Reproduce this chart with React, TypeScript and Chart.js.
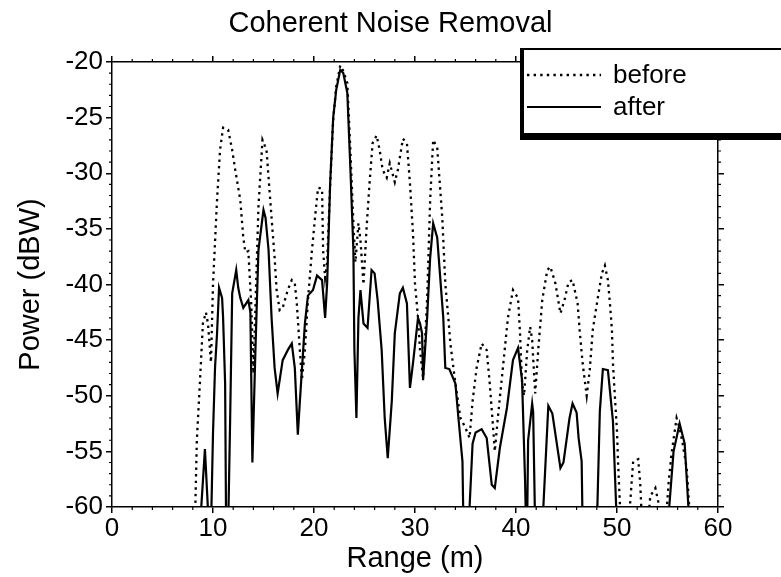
import React, { useEffect, useRef } from "react";
import { Chart, registerables } from "chart.js";

Chart.register(...registerables);

const FONT = "'Liberation Sans', Arial, Helvetica, sans-serif";

const TITLE = "Coherent Noise Removal";
const X_TITLE = "Range (m)";
const Y_TITLE = "Power (dBW)";
const SERIES_LABELS = ["before", "after"];

const X_MIN = 0;
const X_MAX = 60;
const X_STEP = 10;
const X_MINOR = 2;
const Y_MIN = -60;
const Y_MAX = -20;
const Y_STEP = 5;
const Y_MINOR = 1;

// "before" (dotted)
const beforeRange = [
  8.2, 8.4, 8.7, 9.0, 9.3, 9.5, 9.8, 10.0, 10.4, 10.7, 11.0, 11.5, 11.9, 12.2, 12.7, 13.0, 13.2, 13.5, 13.8, 14.0,
  14.2, 14.5, 14.9, 15.3, 15.5, 15.8, 16.1, 16.3, 16.6, 16.9, 17.4, 17.8, 18.1, 18.3, 18.6, 18.8, 19.1, 19.4, 19.8,
  20.1, 20.4, 20.8, 20.9, 21.1, 21.3, 21.6, 21.9, 22.2, 22.6, 22.9, 23.3, 23.6, 23.9, 24.1, 24.4, 24.6, 24.9, 25.2,
  25.5, 25.8, 26.2, 26.5, 26.8, 27.2, 27.5, 28.0, 28.3, 28.8, 29.2, 29.5, 29.8, 30.0, 30.3, 30.5, 30.8, 31.2, 31.5,
  31.8, 32.2, 32.7, 33.0, 33.3, 33.5, 34.0, 34.5, 35.0, 35.4, 35.7, 36.1, 36.6, 37.1, 37.4, 37.7, 37.9, 38.2, 38.7,
  39.2, 39.7, 40.2, 40.4, 40.6, 40.8, 41.1, 41.4, 41.6, 41.9, 42.2, 42.6, 43.1, 43.4, 43.9, 44.4, 44.8, 45.2, 45.6,
  46.1, 46.3, 46.6, 47.0, 47.3, 47.6, 48.1, 48.5, 48.8, 49.1, 49.3, 49.5, 49.6, 49.8, 50.0, 50.1, 50.4, 51.0, 51.3,
  51.6, 52.1, 52.3, 52.5, 53.0, 53.3, 53.8, 54.1, 54.3, 54.8, 55.1, 55.4, 55.9, 56.2, 56.5, 56.9, 57.3,
];
const beforePower = [
  -62, -54, -48.9, -43.5, -42.5, -43.5, -47, -40, -32.4, -27.9, -25.9, -26.1, -27.9, -29.7, -32.4, -35.8, -37.1, -37, -42, -48,
  -42, -33, -27, -27.9, -30.4, -34, -37.6, -40.5, -42.3, -42.1, -40.5, -39.6, -39.9, -41.7, -45.9, -48.6, -45.9, -41.4, -36.9,
  -34, -31.3, -31.4, -36.9, -39.4, -38, -31, -25.2, -22.2, -20.3, -20.8, -21.9, -27.9, -34.5, -38, -34.5, -36, -40, -35,
  -30.9, -27.3, -26.6, -27.9, -29.7, -30.4, -29.1, -30.8, -29.7, -26.9, -27.3, -30.9, -35.4, -39.9, -43, -45.9, -48.4, -41.4, -32.4,
  -27, -27.7, -34, -39.9, -43, -45.3, -48.9, -52, -52.9, -53.8, -50.5, -47.5, -45.3, -45.9, -48.9, -52.5, -55, -52, -47.5,
  -43, -40.5, -41.2, -44.4, -48.9, -50, -46, -43.8, -45, -49.8, -45.9, -41.4, -38.7, -38.4, -39.9, -42.6, -41.4, -39.8, -39.6,
  -41.7, -44.1, -47.1, -50, -47.7, -44.1, -41.2, -39, -38.3, -39.6, -41.7, -44.1, -47.1, -50.2, -53.2, -55.9, -62, -62, -59.7,
  -55.9, -55.7, -57.9, -62, -62, -59, -58.3, -59.6, -62, -62, -57.9, -55.2, -52, -52.9, -54.3, -56.5, -62,
];

// "after" (solid)
const afterRange = [
  8.7, 9.2, 9.6, 9.8, 10.0, 10.2, 10.4, 10.6, 10.9, 11.0, 11.2, 11.3, 11.5, 11.7, 11.9, 12.3, 12.5, 12.7, 13.0, 13.5,
  13.7, 13.9, 14.2, 14.5, 14.9, 15.0, 15.2, 15.5, 15.8, 16.1, 16.4, 16.9, 17.4, 17.8, 18.1, 18.4, 18.6, 19.1, 19.4,
  19.9, 20.3, 20.8, 21.1, 21.3, 21.6, 21.9, 22.2, 22.6, 22.9, 23.3, 23.6, 23.9, 24.0, 24.2, 24.4, 24.6, 24.9, 25.3,
  25.7, 26.0, 26.3, 26.7, 27.0, 27.3, 27.7, 28.0, 28.5, 28.8, 29.2, 29.5, 29.8, 30.3, 30.5, 30.7, 30.8, 31.2, 31.5,
  31.8, 32.2, 32.5, 32.8, 33.0, 33.4, 34.0, 34.3, 34.7, 34.8, 35.3, 35.7, 36.0, 36.6, 37.1, 37.6, 37.9, 38.4, 39.1,
  39.7, 40.2, 40.6, 40.9, 41.0, 41.1, 41.2, 41.6, 41.7, 41.9, 42.6, 43.2, 43.6, 44.4, 44.7, 45.3, 45.6, 46.0, 46.2,
  46.5, 46.6, 48.0, 48.3, 48.6, 49.1, 49.6, 50.0, 55.0, 55.6, 56.2, 56.7, 57.2,
];
const afterPower = [
  -62, -54.8, -62, -62, -53.4, -47.5, -44.4, -40.3, -41.2, -43, -48.9, -62, -62, -52, -40.8, -38.7, -40.3, -41.2, -42.1, -41.4,
  -42.5, -56, -45.9, -36.9, -34, -33.3, -34, -36.9, -43, -47.5, -49.8, -46.8, -45.9, -45.3, -47.5, -53.5, -50.5, -43.5, -41,
  -40.5, -39.2, -39.6, -43, -39.9, -30.9, -25, -22.5, -20.7, -21, -22.8, -29.5, -36.9, -45.9, -52, -43, -40.5, -43.5, -43.9,
  -38.7, -39, -41.4, -45.9, -52, -55.6, -50.5, -44.4, -40.8, -40.3, -41.7, -49.3, -47.1, -43, -43.5, -44.4, -48.6, -43, -37.6,
  -34.5, -35.8, -39.4, -43, -47.5, -47.6, -48.9, -52, -55.9, -62, -62, -54.3, -53.3, -53, -53.8, -58, -58.3, -54.7, -51.1,
  -46.8, -45.7, -48.6, -57.7, -62, -62, -54, -50.7, -51.5, -62, -62, -50.9, -51.6, -56.5, -56, -52, -50.7, -51.5, -53.8,
  -55.9, -62, -62, -51.4, -47.6, -47.7, -52.3, -62, -62, -55, -52.5, -54.3, -62,
];

const toPoints = (xs: number[], ys: number[]) => xs.map((x, i) => ({ x, y: ys[i] }));

const minorTicks = {
  id: "minorTicks",
  afterDraw(chart: any) {
    const { ctx, chartArea } = chart;
    const xs = chart.scales.x;
    const ys = chart.scales.y;
    ctx.save();
    ctx.strokeStyle = "#000";
    ctx.lineWidth = 1.2;
    ctx.beginPath();
    for (let v = X_MIN; v <= X_MAX; v += X_MINOR) {
      if (v % X_STEP === 0) continue;
      const px = xs.getPixelForValue(v);
      ctx.moveTo(px, chartArea.bottom);
      ctx.lineTo(px, chartArea.bottom + 3);
      ctx.moveTo(px, chartArea.top);
      ctx.lineTo(px, chartArea.top - 3);
    }
    for (let v = Y_MIN; v <= Y_MAX; v += Y_MINOR) {
      if (v % Y_STEP === 0) continue;
      const py = ys.getPixelForValue(v);
      ctx.moveTo(chartArea.left, py);
      ctx.lineTo(chartArea.left - 3, py);
      ctx.moveTo(chartArea.right, py);
      ctx.lineTo(chartArea.right + 3, py);
    }
    ctx.stroke();
    ctx.restore();
  },
};

const boxLegend = {
  id: "boxLegend",
  afterDraw(chart: any) {
    const { ctx } = chart;
    const left = 520;
    const top = 48;
    const bottom = 140;
    const right = chart.width + 10;
    ctx.save();
    ctx.fillStyle = "#000";
    ctx.fillRect(left, top, right - left, bottom - top);
    ctx.fillStyle = "#fff";
    ctx.fillRect(left + 4, top + 2, right - left, bottom - top - 9);
    const rows = [75, 107];
    chart.data.datasets.forEach((ds: any, i: number) => {
      const y = rows[i];
      ctx.strokeStyle = "#000";
      ctx.lineWidth = ds.borderWidth;
      ctx.setLineDash(ds.borderDash || []);
      ctx.beginPath();
      ctx.moveTo(527, y);
      ctx.lineTo(601, y);
      ctx.stroke();
      ctx.setLineDash([]);
      ctx.fillStyle = "#000";
      ctx.font = `26px ${FONT}`;
      ctx.textBaseline = "alphabetic";
      ctx.textAlign = "left";
      ctx.fillText(ds.label, 613, y + 8);
    });
    ctx.restore();
  },
};

export default function App() {
  const ref = useRef<HTMLCanvasElement | null>(null);

  useEffect(() => {
    if (!ref.current) return;
    const axisGrid = {
      drawOnChartArea: false,
      drawTicks: true,
      tickLength: 6,
      color: "#000",
      lineWidth: 1.5,
    };
    const axisBorder = { display: true, color: "#000", width: 1.5 };
    const tickFont = { family: FONT, size: 26 };
    const titleFont = { family: FONT, size: 29 };

    const chart = new Chart(ref.current, {
      type: "scatter",
      data: {
        datasets: [
          {
            label: SERIES_LABELS[0],
            data: toPoints(beforeRange, beforePower),
            showLine: true,
            borderColor: "#000",
            borderWidth: 2.3,
            borderDash: [2.4, 4.2],
            pointRadius: 0,
            tension: 0,
            clip: 0,
          },
          {
            label: SERIES_LABELS[1],
            data: toPoints(afterRange, afterPower),
            showLine: true,
            borderColor: "#000",
            borderWidth: 2.2,
            pointRadius: 0,
            tension: 0,
            clip: 0,
          },
        ],
      } as any,
      options: {
        animation: false,
        responsive: false,
        layout: { padding: 0 },
        plugins: {
          legend: { display: false },
          tooltip: { enabled: false },
          title: {
            display: true,
            text: TITLE,
            color: "#000",
            font: { family: FONT, size: 29, weight: "normal" },
            padding: { top: 7, bottom: 0 },
          },
        },
        scales: {
          x: {
            type: "linear",
            position: "bottom",
            min: X_MIN,
            max: X_MAX,
            ticks: { stepSize: X_STEP, color: "#000", font: tickFont, padding: 0, maxRotation: 0, autoSkip: false },
            grid: axisGrid,
            border: axisBorder,
            title: { display: true, text: X_TITLE, color: "#000", font: titleFont, padding: { top: 0, bottom: 1 } },
            afterFit: (s: any) => {
              s.height = 70;
            },
          },
          x2: {
            type: "linear",
            position: "top",
            min: X_MIN,
            max: X_MAX,
            ticks: { stepSize: X_STEP, display: false },
            grid: axisGrid,
            border: axisBorder,
            afterFit: (s: any) => {
              s.height = 20.2;
            },
          },
          y: {
            type: "linear",
            position: "left",
            min: Y_MIN,
            max: Y_MAX,
            ticks: { stepSize: Y_STEP, color: "#000", font: tickFont, padding: 3 },
            grid: axisGrid,
            border: axisBorder,
            title: { display: true, text: Y_TITLE, color: "#000", font: titleFont, padding: { top: 14, bottom: 0 } },
            afterFit: (s: any) => {
              s.width = 112;
            },
          },
          y2: {
            type: "linear",
            position: "right",
            min: Y_MIN,
            max: Y_MAX,
            ticks: { stepSize: Y_STEP, display: false },
            grid: axisGrid,
            border: axisBorder,
            afterFit: (s: any) => {
              s.width = 63;
            },
          },
        },
      } as any,
      plugins: [minorTicks, boxLegend],
    });
    return () => chart.destroy();
  }, []);

  return (
    <div style={{ position: "absolute", left: 0, top: 0, width: 781, height: 577, background: "#fff" }}>
      <canvas ref={ref} width={781} height={577} style={{ display: "block" }} />
    </div>
  );
}
